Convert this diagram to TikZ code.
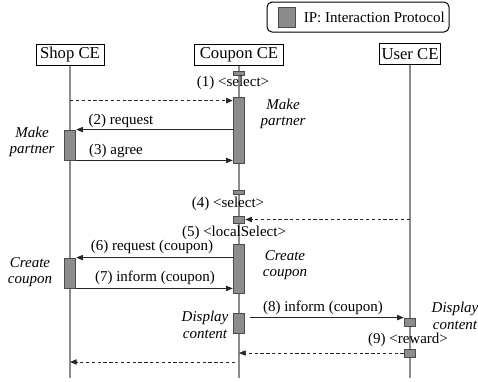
\documentclass[tikz,border=0pt]{standalone}
\usepackage{fontspec}
\setmainfont{Liberation Serif}
\usetikzlibrary{arrows.meta,positioning,calc}

\begin{document}
\begin{tikzpicture}[x=0.6pt, y=-0.6pt,
  ce/.style={draw, line width=0.6pt, minimum height=12.6pt, inner sep=1pt, font=\fontsize{10}{12}\selectfont},
  ip/.style={draw=black!70, line width=0.5pt, fill=black!45, minimum width=7pt, inner sep=0pt},
  lbl/.style={font=\fontsize{9}{10}\selectfont},
  act/.style={font=\fontsize{9}{10}\selectfont\itshape, align=center},
  life/.style={draw=black!45, line width=0.8pt},
  msg/.style={-{Triangle[length=4pt, width=3.2pt]}, line width=0.5pt, black!85},
  ret/.style={msg, dash pattern=on 2pt off 1.5pt}
]
\useasboundingbox (0,0) rectangle (478,381);

% legend
\node[draw, line width=0.6pt, rounded corners=3pt, minimum width=109.2pt, minimum height=18pt] (legend) at (358,17) {};
\node[ip, minimum width=10.2pt, minimum height=12pt] (key) at (286.5,17) {};
\node[lbl, anchor=west] (keytxt) at (298,17) {IP: Interaction Protocol};

% lifelines
\node[ce, minimum width=40.8pt] (shop) at (70,54.5) {Shop CE};
\node[ce, minimum width=53.4pt] (coupon) at (239,54.5) {Coupon CE};
\node[ce, minimum width=35.4pt] (user) at (410,54) {User CE};
\coordinate (end) at (0,378);
\draw[life] (shop.south) -- (shop.south |- end);
\draw[life] (coupon.south) -- (coupon.south |- end);
\draw[life] (user.south) -- (user.south |- end);

% interaction protocols
\node[ip, minimum height=2.4pt] (c0) at (239,73) {};
\node[ip, minimum height=39.6pt] (c1) at (239,130) {};
\node[ip, minimum height=18pt] (s1) at (70,145) {};
\node[ip, minimum height=2.4pt] (c2) at (239,192) {};
\node[ip, minimum height=4.2pt] (c3) at (239,219.5) {};
\node[ip, minimum height=29.4pt] (c4) at (239,268.5) {};
\node[ip, minimum height=18pt] (s2) at (70,273) {};
\node[ip, minimum height=12pt] (c5) at (239,323) {};
\node[ip, minimum height=4.8pt] (u1) at (410,322) {};
\node[ip, minimum height=4.8pt] (u2) at (410,353) {};

% messages
\draw[ret] ([yshift=-2.4pt]shop.south |- c1.north) -- ([yshift=-2.4pt]c1.north west);
\draw[msg] (c1.west |- s1.north) -- (s1.north east);
\draw[msg] (s1.south east) -- (c1.west |- s1.south);
\draw[ret] (user.south |- c3) -- (c3.east);
\draw[msg] (c4.west |- s2.north) -- (s2.north east);
\draw[msg] (s2.south east) -- (c4.west |- s2.south);
\draw[msg] ([xshift=3pt]c5.east |- u1.north) -- (u1.north west);
\draw[ret] (u2.west) -- (coupon.south |- u2);
\coordinate (back) at (235,362);
\draw[ret] (back) -- (shop.south |- back);

% labels
\node[lbl] (l1) at (233,83) {(1) <select>};
\node[lbl] (l2) at (121,121) {(2) request};
\node[lbl] (l3) at (116,151) {(3) agree};
\node[lbl] (l4) at (228,204) {(4) <select>};
\node[lbl] (l5) at (234,233) {(5) <localSelect>};
\node[lbl] (l6) at (152,247) {(6) request (coupon)};
\node[lbl] (l7) at (155,278) {(7) inform (coupon)};
\node[lbl] (l8) at (323,308) {(8) inform (coupon)};
\node[lbl] (l9) at (408,340) {(9) <reward>};

\node[act] (mp1) at (283,114) {Make\\partner};
\node[act] (mp2) at (32,142) {Make\\partner};
\node[act] (cc1) at (285,265) {Create\\coupon};
\node[act] (cc2) at (30,272) {Create\\coupon};
\node[act] (dc1) at (205,325) {Display\\content};
\node[act] (dc2) at (455,316) {Display\\content};
\end{tikzpicture}
\end{document}
